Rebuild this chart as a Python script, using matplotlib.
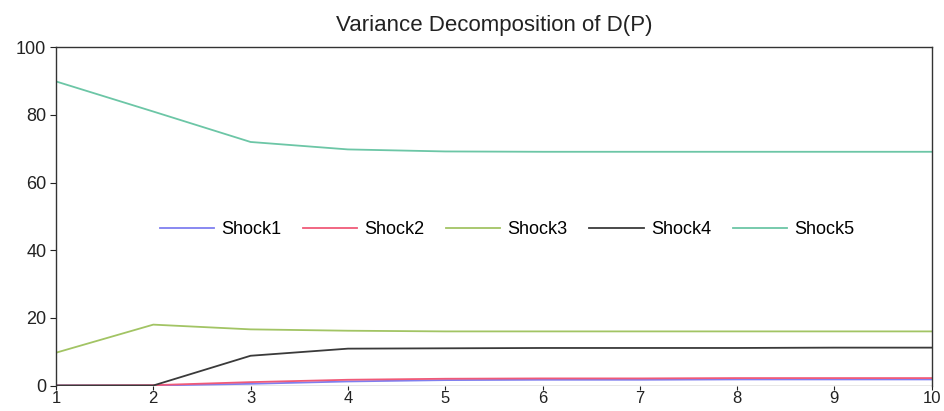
import matplotlib
matplotlib.use("Agg")
from matplotlib import pyplot as plt

plt.rcParams['font.family'] = ['Liberation Sans', 'DejaVu Sans']

periods = [1, 2, 3, 4, 5, 6, 7, 8, 9, 10]
shock1 = [0.0, 0.0, 0.5, 1.2, 1.6, 1.7, 1.7, 1.8, 1.8, 1.8]
shock2 = [0.0, 0.1, 1.0, 1.7, 2.0, 2.1, 2.1, 2.2, 2.2, 2.2]
shock3 = [9.7, 18.0, 16.6, 16.2, 16.0, 16.0, 16.0, 16.0, 16.0, 16.0]
shock4 = [0.0, 0.0, 8.8, 10.9, 11.0, 11.1, 11.1, 11.1, 11.2, 11.2]
shock5 = [89.9, 81.0, 72.0, 69.8, 69.2, 69.1, 69.1, 69.1, 69.1, 69.1]

fig = plt.figure(figsize=(9.44, 4.11), dpi=100)
ax = fig.add_axes([0.0593, 0.0620, 0.9277, 0.823])

ax.plot(periods, shock1, color="#7f7ff0", lw=1.3, label="Shock1")
ax.plot(periods, shock2, color="#f05a78", lw=1.3, label="Shock2")
ax.plot(periods, shock3, color="#a2c464", lw=1.3, label="Shock3")
ax.plot(periods, shock4, color="#3a3a3a", lw=1.3, label="Shock4")
ax.plot(periods, shock5, color="#6cc6a6", lw=1.3, label="Shock5")
ax.axhline(0, color="#888888", lw=1.0, zorder=0)

ax.set_xlim(1, 10)
ax.set_ylim(0, 100)
ax.set_xticks(periods)
ax.set_yticks([0, 20, 40, 60, 80, 100])
ax.tick_params(labelsize=13, colors="#222222", length=4, width=0.8, pad=3)
ax.tick_params(axis="x", labelsize=12, length=3, pad=1)
for s in ax.spines.values():
    s.set_color("#333333")
    s.set_linewidth(1.0)
ax.spines['bottom'].set_visible(False)

ax.set_title("Variance Decomposition of D(P)", fontsize=16, color="#222222", pad=12)
ax.legend(loc="center", bbox_to_anchor=(0.515, 0.46), ncol=5, frameon=False,
          fontsize=13, handlelength=3.0, columnspacing=1.2, handletextpad=0.4)

fig.savefig("out.png", dpi=100)
